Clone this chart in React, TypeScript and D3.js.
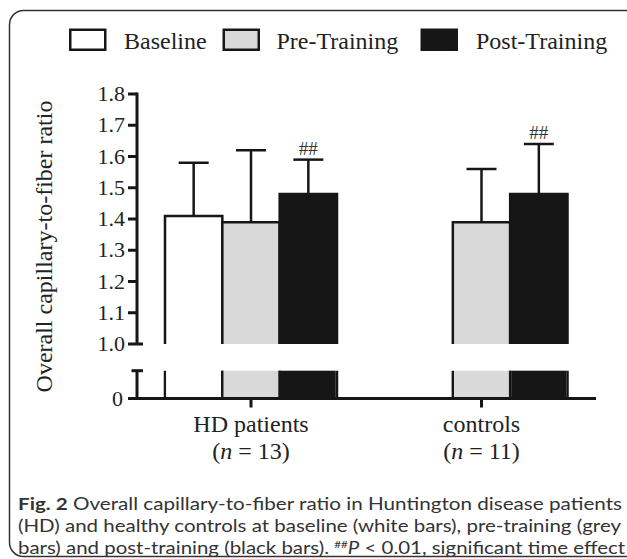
import React from "react";
import * as d3 from "d3";

const groups = ["HD patients", "controls"];
const groupN = ["13", "11"];
const series = ["Baseline", "Pre-Training", "Post-Training"];
const seriesFill = ["#ffffff", "#d9d9d9", "#161616"];
// means per group (null = not measured)
const baselineVals = [1.41, null];
const preVals = [1.39, 1.39];
const postVals = [1.48, 1.48];
// SD (upper error)
const baselineErr = [0.17, null];
const preErr = [0.23, 0.17];
const postErr = [0.11, 0.16];
const postSig = ["##", "##"];
const yTicks = [1.0, 1.1, 1.2, 1.3, 1.4, 1.5, 1.6, 1.7, 1.8];
const captionLines = [
  "Overall capillary-to-fiber ratio in Huntington disease patients",
  "(HD) and healthy controls at baseline (white bars), pre-training (grey",
  "bars) and post-training (black bars). ",
];

export default function App() {
  const W = 627, H = 559;
  const axisX = 137;
  const y = d3.scaleLinear().domain([1.0, 1.8]).range([344, 94]);
  const yLow = d3.scaleLinear().domain([0, 1]).range([398.5, 370.7]); // lower stub (0 .. break)
  const xG = d3.scalePoint<string>().domain(groups).range([251, 481.5]);
  const xS = d3.scaleBand<string>().domain(series).range([-86, 86]).padding(0);
  const bw = xS.bandwidth();

  const vals = [baselineVals, preVals, postVals];
  const errs = [baselineErr, preErr, postErr];

  const bars: any[] = [];
  groups.forEach((g, gi) => {
    series.forEach((s, si) => {
      const v = vals[si][gi];
      if (v == null) return;
      const x0 = (xG(g) as number) + (xS(s) as number);
      bars.push({ g, gi, s, si, v, e: errs[si][gi], x0, cx: x0 + bw / 2 });
    });
  });

  const serif = "'Liberation Serif', 'Times New Roman', serif";
  const sans = "Lato, 'Open Sans', sans-serif";
  const sw = 2.5;

  return (
    <svg width={W} height={H} style={{ position: "absolute", left: 0, top: 0 }}>
      <rect x={0} y={0} width={W} height={H} fill="#fff" />
      {/* frame */}
      <rect x={9.5} y={10.5} width={630} height={546} rx={14} ry={14} fill="none" stroke="#333" strokeWidth={1.5} />

      {/* legend */}
      {[
        { bx: 69, tx: 124 },
        { bx: 222.5, tx: 276.5 },
        { bx: 420.5, tx: 476 },
      ].map((l, i) => (
        <g key={i}>
          <rect x={l.bx + 1.25} y={28.5 + 1.25} width={35} height={20} fill={seriesFill[i]} stroke="#161616" strokeWidth={sw} />
          <text x={l.tx} y={48.5} fontFamily={serif} fontSize={24} fill="#222">{series[i]}</text>
        </g>
      ))}

      {/* bars */}
      {bars.map((b, i) => {
        const top = y(b.v);
        return (
          <g key={i}>
            <path
              d={`M${b.x0},${y(1.0)}V${top}H${b.x0 + bw}V${y(1.0)}`}
              fill={seriesFill[b.si]}
              stroke="#161616"
              strokeWidth={sw}
            />
            <path
              d={`M${b.x0},${yLow(0)}V${yLow(1)}M${b.x0 + bw},${yLow(1)}V${yLow(0)}`}
              fill="none"
              stroke="#161616"
              strokeWidth={sw}
            />
            <rect x={b.x0 + sw / 2} y={yLow(1)} width={bw - sw} height={yLow(0) - yLow(1)} fill={seriesFill[b.si]} />
          </g>
        );
      })}
      {bars.map((b, i) => {
        const top = y(b.v);
        const et = y(b.v + b.e);
        return (
          <g key={"e" + i} stroke="#161616" strokeWidth={sw}>
            <line x1={b.cx} x2={b.cx} y1={top} y2={et} />
            <line x1={b.cx - 15} x2={b.cx + 15} y1={et} y2={et} />
          </g>
        );
      })}
      {groups.map((g, gi) => {
        const b = bars.find((d) => d.gi === gi && d.si === 2);
        return (
          <text key={g} x={b.cx} y={y(b.v + b.e) - 5} textAnchor="middle" fontFamily={serif} fontSize={19} fill="#333">
            {postSig[gi]}
          </text>
        );
      })}

      {/* y axis */}
      <g stroke="#161616" strokeWidth={3} fill="none">
        <line x1={axisX} x2={axisX} y1={y(1.8) - 1.5} y2={y(1.0)} />
        {yTicks.map((t) => (
          <line key={t} x1={128} x2={t === 1.0 ? 143 : axisX} y1={y(t)} y2={y(t)} />
        ))}
        <line x1={axisX} x2={axisX} y1={yLow(1)} y2={yLow(0)} />
        <line x1={131.5} x2={143} y1={yLow(1)} y2={yLow(1)} />
        <line x1={128} x2={596} y1={yLow(0)} y2={yLow(0)} />
        {groups.map((g) => (
          <line key={g} x1={xG(g)} x2={xG(g)} y1={yLow(0)} y2={yLow(0) + 9} />
        ))}
      </g>
      {yTicks.map((t) => (
        <text key={t} x={125} y={y(t) + 7} textAnchor="end" fontFamily={serif} fontSize={22} fill="#222">
          {t.toFixed(1)}
        </text>
      ))}
      <text x={123} y={yLow(0) + 7} textAnchor="end" fontFamily={serif} fontSize={22} fill="#222">0</text>

      {/* y label */}
      <text
        transform={`translate(52,246.5) rotate(-90)`}
        textAnchor="middle"
        fontFamily={serif}
        fontSize={24}
        fill="#222"
      >
        Overall capillary-to-fiber ratio
      </text>

      {/* x labels */}
      {groups.map((g, gi) => (
        <g key={g} fontFamily={serif} fontSize={24} fill="#222" textAnchor="middle">
          <text x={xG(g)} y={432}>{g}</text>
          <text x={xG(g)} y={459}>
            (<tspan fontStyle="italic">n</tspan> = {groupN[gi]})
          </text>
        </g>
      ))}

      {/* caption */}
      <g fontFamily={sans} fontSize={17.5} fill="#333">
        <text x={18} y={510} textLength={604} lengthAdjust="spacingAndGlyphs">
          <tspan fontWeight="bold">Fig. 2</tspan> {captionLines[0]}
        </text>
        <text x={18} y={532} textLength={603} lengthAdjust="spacingAndGlyphs">{captionLines[1]}</text>
        <text x={18} y={553.5} textLength={607} lengthAdjust="spacingAndGlyphs">
          {captionLines[2]}
          <tspan fontSize={10} dy={-6}>##</tspan>
          <tspan fontStyle="italic" dy={6}>P</tspan> &lt; 0.01, significant time effect
        </text>
      </g>
    </svg>
  );
}
